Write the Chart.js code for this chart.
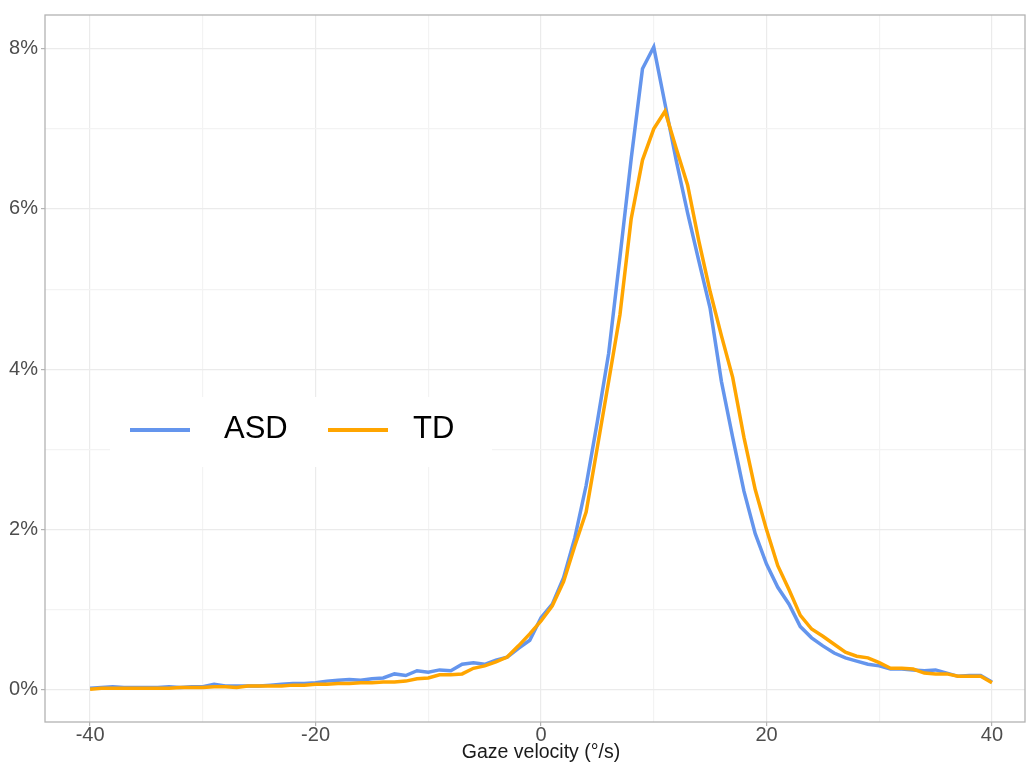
<!DOCTYPE html>
<html>
<head>
<meta charset="utf-8">
<script src="https://cdn.jsdelivr.net/npm/chart.js@4/dist/chart.umd.min.js"></script>
<style>
  html, body { margin: 0; padding: 0; background: #fff; }
  #wrap { width: 1027px; height: 765px; position: relative; }
</style>
</head>
<body>
<div id="wrap"><canvas id="c" width="1027" height="765"></canvas></div>
<script>
// ---- data (percent) ----
const velocity = [-40,-39,-38,-37,-36,-35,-34,-33,-32,-31,-30,-29,-28,-27,-26,-25,-24,-23,-22,-21,
  -20,-19,-18,-17,-16,-15,-14,-13,-12,-11,-10,-9,-8,-7,-6,-5,-4,-3,-2,-1,
  0,1,2,3,4,5,6,7,8,9,10,11,12,13,14,15,16,17,18,19,20,21,22,23,24,25,26,27,28,29,30,
  31,32,33,34,35,36,37,38,39,40];
const asd = [0.02,0.03,0.04,0.03,0.03,0.03,0.03,0.04,0.03,0.04,0.04,0.07,0.05,0.05,0.05,0.05,0.06,0.07,0.08,0.08,
  0.09,0.11,0.12,0.13,0.12,0.14,0.15,0.20,0.18,0.24,0.22,0.25,0.24,0.32,0.34,0.32,0.37,0.41,0.52,0.62,
  0.90,1.07,1.40,1.90,2.55,3.35,4.20,5.40,6.63,7.75,8.02,7.31,6.60,5.95,5.35,4.76,3.85,3.15,2.48,1.95,
  1.57,1.28,1.07,0.79,0.65,0.55,0.46,0.40,0.36,0.32,0.30,0.26,0.26,0.25,0.24,0.25,0.21,0.17,0.18,0.18,0.10];
const td = [0.01,0.02,0.02,0.02,0.02,0.02,0.02,0.02,0.03,0.03,0.03,0.04,0.04,0.03,0.05,0.05,0.05,0.05,0.06,0.06,
  0.07,0.07,0.08,0.08,0.09,0.09,0.10,0.10,0.11,0.14,0.15,0.19,0.19,0.20,0.27,0.30,0.35,0.41,0.55,0.70,
  0.86,1.05,1.35,1.80,2.22,3.03,3.85,4.68,5.88,6.61,7.00,7.22,6.75,6.30,5.60,4.97,4.42,3.90,3.15,2.50,
  2.00,1.55,1.25,0.93,0.76,0.67,0.57,0.47,0.42,0.40,0.34,0.27,0.27,0.26,0.21,0.20,0.20,0.17,0.17,0.17,0.09];
const seriesNames = ['ASD', 'TD'];
const xTickValues = [-40,-30,-20,-10,0,10,20,30,40];
const xTickLabels = ['-40','','-20','','0','','20','','40'];
const yTickValues = [0,1,2,3,4,5,6,7,8];
const yTickLabels = ['0%','','2%','','4%','','6%','','8%'];
const xTitle = 'Gaze velocity (°/s)';

const colors = ['#6495ED', '#FFA500'];
const FONT = '"Liberation Sans", Arial, sans-serif';

const toPts = arr => velocity.map((v, i) => ({x: v, y: arr[i]}));

const legendPlugin = {
  id: 'insideLegend',
  afterDatasetsDraw(chart) {
    const ctx = chart.ctx;
    ctx.save();
    ctx.fillStyle = '#ffffff';
    ctx.fillRect(110, 397, 382, 70);
    const items = [
      {x0: 130, x1: 190, tx: 224},
      {x0: 328, x1: 388, tx: 413}
    ];
    seriesNames.forEach((name, i) => {
      const it = items[i];
      ctx.strokeStyle = colors[i];
      ctx.lineWidth = 4;
      ctx.beginPath();
      ctx.moveTo(it.x0, 430);
      ctx.lineTo(it.x1, 430);
      ctx.stroke();
      ctx.fillStyle = '#000000';
      ctx.font = '31px ' + FONT;
      ctx.textBaseline = 'middle';
      ctx.textAlign = 'left';
      ctx.fillText(name, it.tx, 429);
    });
    ctx.restore();
  }
};

const borderPlugin = {
  id: 'panelBorder',
  afterDraw(chart) {
    const a = chart.chartArea;
    const ctx = chart.ctx;
    ctx.save();
    ctx.strokeStyle = '#b3b3b3';
    ctx.lineWidth = 1.3;
    ctx.strokeRect(a.left, a.top, a.right - a.left, a.bottom - a.top);
    // x-axis title, centred on the (uncropped) panel centre
    ctx.fillStyle = '#1a1a1a';
    ctx.font = '19.5px ' + FONT;
    ctx.textAlign = 'center';
    ctx.textBaseline = 'middle';
    ctx.fillText(xTitle, chart.scales.x.getPixelForValue(0), 753);
    ctx.restore();
  }
};

new Chart(document.getElementById('c'), {
  type: 'line',
  data: {
    datasets: [
      {label: seriesNames[0], data: toPts(asd), borderColor: colors[0], backgroundColor: colors[0],
       borderWidth: 3.5, pointRadius: 0, tension: 0, order: 1},
      {label: seriesNames[1], data: toPts(td), borderColor: colors[1], backgroundColor: colors[1],
       borderWidth: 3.5, pointRadius: 0, tension: 0, order: 0}
    ]
  },
  options: {
    responsive: false,
    animation: false,
    layout: {padding: {top: 12, right: 2, left: 0, bottom: 0}},
    plugins: {legend: {display: false}, tooltip: {enabled: false}},
    scales: {
      x: {
        type: 'linear',
        min: -44, max: 42.93,
        afterBuildTicks: s => { s.ticks = xTickValues.map(v => ({value: v})); },
        afterFit: s => { s.height = 43; },
        border: {display: false},
        grid: {
          color: ctx => (ctx.tick && ctx.tick.value % 20 === 0) ? '#ebebeb' : '#f3f3f3',
          lineWidth: 1.2,
          drawTicks: true, tickLength: 4, tickColor: ctx => (ctx.tick && ctx.tick.value % 20 === 0) ? '#b3b3b3' : 'rgba(0,0,0,0)'
        },
        ticks: {
          autoSkip: false, maxRotation: 0, padding: -3,
          color: '#4d4d4d', font: {family: FONT, size: 20},
          callback: (v) => xTickLabels[xTickValues.indexOf(v)]
        },
        title: {display: false, text: xTitle}
      },
      y: {
        type: 'linear',
        min: -0.4, max: 8.42,
        afterBuildTicks: s => { s.ticks = yTickValues.map(v => ({value: v})); },
        afterFit: s => { s.width = 45; },
        border: {display: false},
        grid: {
          color: ctx => (ctx.tick && ctx.tick.value % 2 === 0) ? '#ebebeb' : '#f3f3f3',
          lineWidth: 1.2,
          drawTicks: true, tickLength: 4, tickColor: ctx => (ctx.tick && ctx.tick.value % 2 === 0) ? '#b3b3b3' : 'rgba(0,0,0,0)'
        },
        ticks: {
          autoSkip: false, padding: 3,
          color: '#4d4d4d', font: {family: FONT, size: 20},
          callback: (v) => yTickLabels[yTickValues.indexOf(v)]
        }
      }
    }
  },
  plugins: [legendPlugin, borderPlugin]
});
</script>
</body>
</html>
